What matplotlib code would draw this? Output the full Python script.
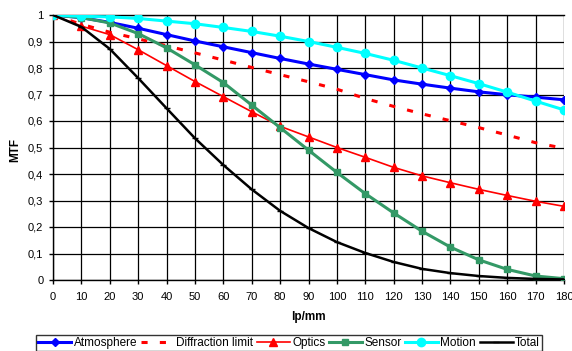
import matplotlib
matplotlib.use("Agg")
import matplotlib.pyplot as plt
from matplotlib.ticker import FuncFormatter

plt.rcParams['font.family'] = ['Liberation Sans', 'DejaVu Sans']

lp = [0, 10, 20, 30, 40, 50, 60, 70, 80, 90, 100, 110, 120, 130, 140, 150, 160, 170, 180]
atmosphere = [1.0, 0.99, 0.972, 0.950, 0.926, 0.902, 0.880, 0.858, 0.836, 0.815, 0.795, 0.775, 0.755, 0.739, 0.724, 0.710, 0.699, 0.690, 0.680]
diffraction = [1.0, 0.965, 0.935, 0.910, 0.884, 0.857, 0.830, 0.802, 0.775, 0.748, 0.720, 0.685, 0.655, 0.627, 0.601, 0.575, 0.547, 0.518, 0.497]
optics = [1.0, 0.958, 0.926, 0.869, 0.809, 0.749, 0.692, 0.635, 0.580, 0.540, 0.500, 0.463, 0.425, 0.393, 0.367, 0.342, 0.319, 0.297, 0.278]
sensor = [1.0, 0.99, 0.970, 0.930, 0.876, 0.812, 0.745, 0.660, 0.575, 0.490, 0.406, 0.326, 0.253, 0.184, 0.124, 0.076, 0.040, 0.015, 0.005]
motion = [1.0, 0.995, 0.993, 0.987, 0.977, 0.967, 0.953, 0.938, 0.920, 0.900, 0.878, 0.855, 0.829, 0.800, 0.771, 0.741, 0.709, 0.675, 0.642]
total = [1.0, 0.955, 0.872, 0.762, 0.648, 0.535, 0.434, 0.342, 0.261, 0.196, 0.143, 0.102, 0.068, 0.042, 0.026, 0.015, 0.008, 0.004, 0.002]

fig = plt.figure(figsize=(5.72, 3.51), dpi=100)
ax = fig.add_axes([53/572, 1-280/351, (564-53)/572, (280-15)/351])

ax.plot(lp, atmosphere, color='#0000FF', lw=2.2, marker='D', ms=4, label='Atmosphere', zorder=3)
ax.plot(lp, diffraction, color='#FF0000', lw=2.2, ls=(0, (2, 4)), label='Diffraction limit', zorder=3)
ax.plot(lp, optics, color='#FF0000', lw=1.2, marker='^', ms=6, label='Optics', zorder=3)
ax.plot(lp, sensor, color='#339966', lw=2.2, marker='s', ms=5, label='Sensor', zorder=3)
ax.plot(lp, motion, color='#00FFFF', lw=2.2, marker='o', ms=6, label='Motion', zorder=3)
ax.plot(lp, total, color='#000000', lw=1.8, marker='_', ms=5, label='Total', zorder=3)

ax.set_xlim(0, 180)
ax.set_ylim(0, 1)
ax.set_xticks(lp)
ax.set_yticks([i / 10 for i in range(11)])

def yfmt(v, pos):
    s = f"{v:.1f}".replace('.', ',')
    if s == '0,0':
        return '0'
    if s == '1,0':
        return '1'
    return s

ax.yaxis.set_major_formatter(FuncFormatter(yfmt))
ax.tick_params(axis='both', labelsize=8, direction='out', length=3, width=1, color='black')
ax.tick_params(axis='x', pad=6)
ax.tick_params(axis='y', pad=4)
ax.grid(True, color='black', lw=0.9)
ax.set_axisbelow(True)
for sp in ax.spines.values():
    sp.set_color('black')
    sp.set_linewidth(1)
ax.spines['right'].set_visible(False)

fig.text(0.5 * (53 + 564) / 572, 1 - 317/351, 'lp/mm', ha='center', va='center', fontsize=8.5, fontweight='bold')
fig.text(15/572, 1 - 150/351, 'MTF', ha='center', va='center', fontsize=8.5, fontweight='bold', rotation=90)

leg = fig.legend(loc='lower center', bbox_to_anchor=(289/572, 0.5/351), ncol=6, fontsize=8.5,
                 frameon=True, fancybox=False, edgecolor='black', handlelength=2.8,
                 handletextpad=0.2, columnspacing=0.3, borderpad=0.15, borderaxespad=0)
leg.get_frame().set_linewidth(1)

fig.savefig('out.png', dpi=100)
